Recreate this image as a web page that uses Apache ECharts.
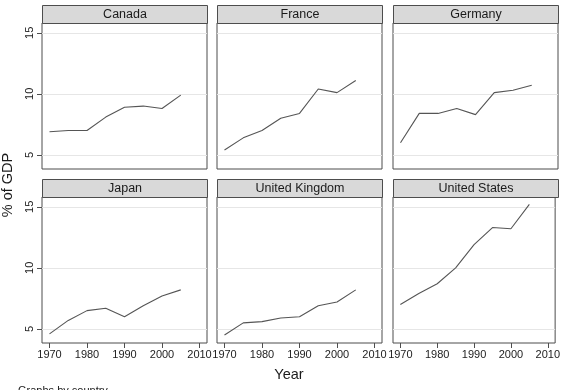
<!DOCTYPE html>
<html>
<head>
<meta charset="utf-8">
<script src="https://cdn.jsdelivr.net/npm/echarts@6/dist/echarts.min.js"></script>
<style>
  html, body { margin: 0; padding: 0; background: #fff; }
  #chart { width: 563px; height: 390px; }
</style>
</head>
<body>
<div id="chart"></div>
<script>
// health spending, % of GDP, every 5 years
const years = [1970, 1975, 1980, 1985, 1990, 1995, 2000, 2005];
const countries = ['Canada', 'France', 'Germany', 'Japan', 'United Kingdom', 'United States'];
const canada  = [6.9, 7.0, 7.0, 8.1, 8.9, 9.0, 8.8, 9.9];
const france  = [5.4, 6.4, 7.0, 8.0, 8.4, 10.4, 10.1, 11.1];
const germany = [6.0, 8.4, 8.4, 8.8, 8.3, 10.1, 10.3, 10.7];
const japan   = [4.6, 5.7, 6.5, 6.7, 6.0, 6.9, 7.7, 8.2];
const uk      = [4.5, 5.5, 5.6, 5.9, 6.0, 6.9, 7.2, 8.2];
const us      = [7.0, 7.9, 8.7, 10.0, 11.9, 13.3, 13.2, 15.2];
const xTicks = [1970, 1980, 1990, 2000, 2010];
const yTicks = [5, 10, 15];

const seriesData = [canada, france, germany, japan, uk, us];
const font = 'Liberation Sans, Arial, sans-serif';
const lefts = [42, 217, 393];
const tops = [23, 197];
const panelW = 165, panelH = 146, headH = 18;

const chart = echarts.init(document.getElementById('chart'));

const grids = [], xAxes = [], yAxes = [], series = [], graphics = [];
countries.forEach((name, i) => {
    const col = i % 3, row = Math.floor(i / 3);
    grids.push({
        left: lefts[col], top: tops[row], width: panelW, height: panelH,
        show: true, borderColor: '#4d4d4d', borderWidth: 1, backgroundColor: '#fff'
    });
    xAxes.push({
        gridIndex: i, type: 'value', min: 1968, max: 2012,
        axisLine: { show: false },
        splitLine: { show: false },
        axisTick: { show: row === 1, customValues: xTicks, length: 5, inside: false, lineStyle: { color: '#4d4d4d' } },
        axisLabel: { show: row === 1, customValues: xTicks, margin: 6, fontFamily: font, fontSize: 11, color: '#222',
                     formatter: v => String(v) }
    });
    yAxes.push({
        gridIndex: i, type: 'value', min: 3.85, max: 15.8,
        axisLine: { show: false },
        splitLine: { show: false },
        axisTick: { show: col === 0, customValues: yTicks, length: 5, lineStyle: { color: '#4d4d4d' } },
        axisLabel: { show: col === 0, customValues: yTicks, rotate: 90, margin: 7, fontFamily: font, fontSize: 11, color: '#222' }
    });
    series.push({
        type: 'line', name: name, xAxisIndex: i, yAxisIndex: i,
        data: years.map((y, k) => [y, seriesData[i][k]]),
        symbol: 'none', silent: true,
        lineStyle: { color: '#555', width: 1.1 },
        markLine: {
            silent: true, symbol: 'none', label: { show: false }, z: 1,
            lineStyle: { color: '#e6e6e6', width: 1, type: 'solid' },
            data: yTicks.map(v => ({ yAxis: v }))
        },
        z: 3
    });
    graphics.push({
        type: 'group',
        left: lefts[col], top: tops[row] - headH,
        children: [
            { type: 'rect', shape: { x: 0, y: 0, width: panelW, height: headH },
              style: { fill: '#d9d9d9', stroke: '#4d4d4d', lineWidth: 1 } },
            { type: 'text', x: panelW / 2, y: headH / 2 + 0.5,
              style: { text: name, fill: '#1a1a1a', font: '12.5px ' + font, textAlign: 'center', textVerticalAlign: 'middle' } }
        ]
    });
});

graphics.push(
    { type: 'text', x: 8, y: 185, rotation: Math.PI / 2,
      style: { text: '% of GDP', fill: '#1a1a1a', font: '14.5px ' + font, textAlign: 'center', textVerticalAlign: 'middle' } },
    { type: 'text', x: 289, y: 375,
      style: { text: 'Year', fill: '#1a1a1a', font: '14.5px ' + font, textAlign: 'center', textVerticalAlign: 'middle' } },
    { type: 'text', x: 18, y: 385,
      style: { text: 'Graphs by country', fill: '#1a1a1a', font: '11px ' + font, textAlign: 'left', textVerticalAlign: 'top' } }
);

chart.setOption({
    animation: false,
    backgroundColor: '#fff',
    grid: grids,
    xAxis: xAxes,
    yAxis: yAxes,
    series: series,
    graphic: graphics
});
</script>
</body>
</html>
